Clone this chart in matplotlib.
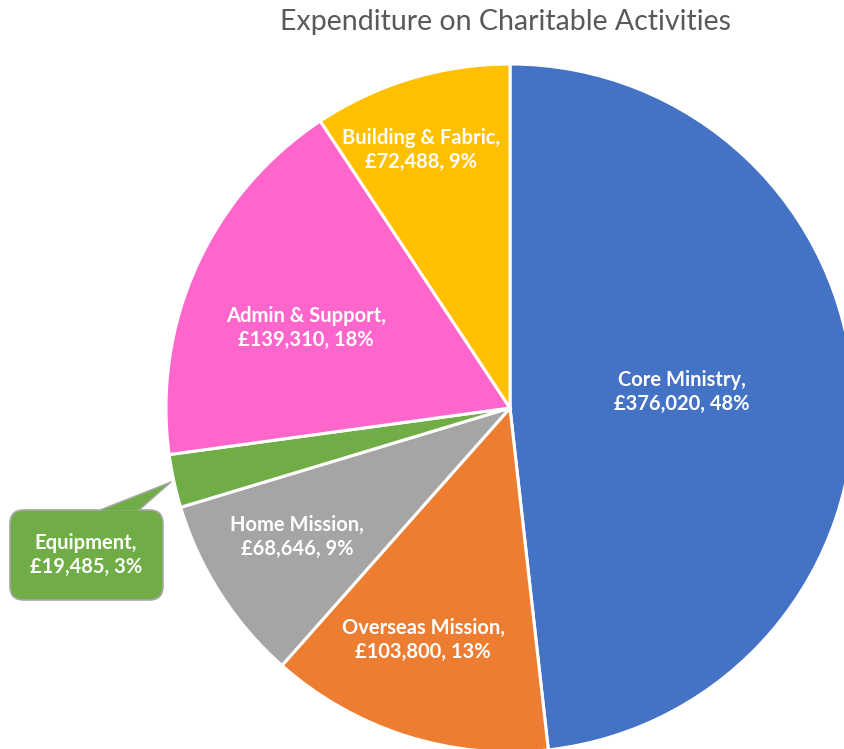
import matplotlib
matplotlib.use("Agg")
import matplotlib.pyplot as plt
from matplotlib.patches import FancyBboxPatch, Polygon

# slices, clockwise from 12 o'clock
CATEGORIES = ["Core Ministry", "Overseas Mission", "Home Mission",
              "Equipment", "Admin & Support", "Building & Fabric"]
AMOUNTS = [376020, 103800, 68646, 19485, 139310, 72488]
PERCENTS = ["48%", "13%", "9%", "3%", "18%", "9%"]
COLORS = ["#4472C4", "#ED7D31", "#A5A5A5", "#70AD47", "#FF66CC", "#FFC000"]

W, H = 844, 749
CX, CY, R = 510, 408, 344   # pie centre / radius in pixels (from top-left)


def to_data(px, py):
    return (px - CX) / R, (CY - py) / R


# label centres in pixels
LABEL_PX = [(682, 392), (423, 640), (297, 537), (86, 555), (306, 328), (421, 150)]

fig = plt.figure(figsize=(W / 100, H / 100), dpi=100)
ax = fig.add_axes([(CX - R) / W, (H - CY - R) / H, 2 * R / W, 2 * R / H])

ax.pie(AMOUNTS, colors=COLORS, startangle=90, counterclock=False, radius=1,
       wedgeprops=dict(edgecolor="white", linewidth=2.2, clip_on=False))
ax.set_xlim(-1, 1)
ax.set_ylim(-1, 1)
ax.set_aspect("equal")
ax.axis("off")

# callout box for Equipment
x0, y1 = to_data(10, 510)
x1, y0 = to_data(163, 600)
box = FancyBboxPatch((x0, y0), x1 - x0, y1 - y0,
                     boxstyle="round,pad=0,rounding_size=0.04",
                     fc=COLORS[3], ec="#a6a6a6", lw=1.2, clip_on=False, zorder=3)
ax.add_patch(box)
tri = Polygon([to_data(100, 510.5), to_data(171, 482), to_data(139, 510.5)],
              closed=True, fc=COLORS[3], ec="none", clip_on=False, zorder=4)
ax.add_patch(tri)
ax.plot(*zip(to_data(100, 510), to_data(171, 482), to_data(139, 510)),
        color="#a6a6a6", lw=1.0, clip_on=False, zorder=4)

for name, amt, pct, (px, py) in zip(CATEGORIES, AMOUNTS, PERCENTS, LABEL_PX):
    x, y = to_data(px, py)
    ax.text(x, y, f"{name},\n£{amt:,}, {pct}", ha="center", va="center",
            color="white", fontsize=14.5, fontweight="bold", family="Lato",
            linespacing=1.2, zorder=5)

fig.text(505 / W, 1 - 22 / H, "Expenditure on Charitable Activities",
         ha="center", va="center", fontsize=20.5, color="#595959", family="Lato")

fig.savefig("out.png", dpi=100)
